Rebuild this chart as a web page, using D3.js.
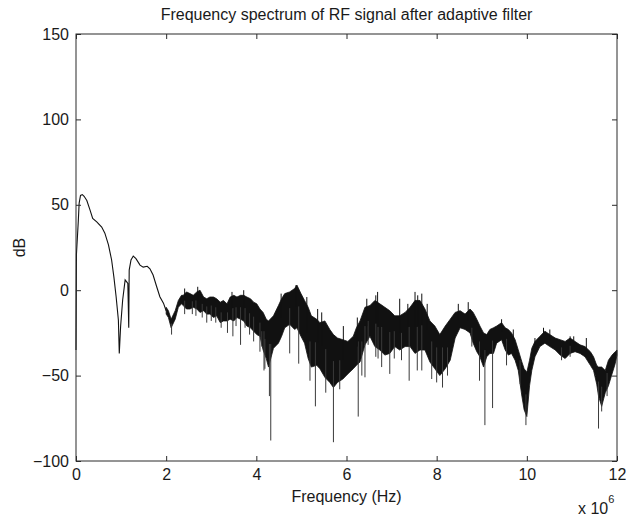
<!DOCTYPE html>
<html>
<head>
<meta charset="utf-8">
<script src="https://cdn.jsdelivr.net/npm/d3@7"></script>
<style>
  html, body { margin: 0; padding: 0; background: #fff; }
  svg { display: block; }
  text { font-family: "Liberation Sans", Arial, sans-serif; fill: #1a1a1a; }
</style>
</head>
<body>
<svg id="chart" width="626" height="516"></svg>
<script>
// Low-frequency part of the spectrum: a clean single trace (MHz, dB)
const smoothFreq = [0.00, 0.01, 0.05, 0.07, 0.10, 0.14, 0.18, 0.24, 0.31, 0.37, 0.46, 0.57, 0.64, 0.72, 0.79, 0.84, 0.89, 0.94, 0.96, 0.99, 1.035, 1.09, 1.12, 1.15, 1.17, 1.18, 1.22, 1.27, 1.33, 1.42, 1.49, 1.58, 1.64, 1.71, 1.79, 1.86, 1.94, 2.00];
const smoothDb   = [-35, 21, 40, 51, 55.5, 56, 55, 52.5, 47, 42, 40, 37, 33.4, 26.5, 17.7, 7.8, -3.8, -17.4, -37, -21, -5.7, 6, 5, 4, -22, 11.8, 17.7, 20, 18.5, 14.7, 13.5, 14, 12.5, 8.9, 2, -3.8, -7.6, -12];

// Noisy part: upper and lower extent of the trace at each reading (MHz, dB)
const bandFreq = [2.00, 2.05, 2.11, 2.20, 2.27, 2.34, 2.38, 2.45, 2.53, 2.60, 2.68, 2.75, 2.83, 2.90, 2.97, 3.05, 3.12, 3.20, 3.27, 3.35, 3.42, 3.50, 3.57, 3.65, 3.72, 3.79, 3.87, 3.94, 4.01, 4.08, 4.15, 4.22, 4.27, 4.38, 4.49, 4.56, 4.63, 4.74, 4.85, 4.90, 4.99, 5.07, 5.15, 5.22, 5.34, 5.41, 5.52, 5.63, 5.71, 5.80, 5.92, 6.03, 6.15, 6.22, 6.30, 6.41, 6.52, 6.63, 6.74, 6.85, 6.96, 7.07, 7.18, 7.30, 7.41, 7.52, 7.63, 7.74, 7.85, 7.96, 8.07, 8.19, 8.30, 8.41, 8.52, 8.63, 8.74, 8.81, 8.89, 8.96, 9.04, 9.11, 9.18, 9.26, 9.33, 9.44, 9.52, 9.59, 9.66, 9.74, 9.81, 9.89, 9.94, 10.00, 10.06, 10.11, 10.18, 10.29, 10.40, 10.51, 10.63, 10.74, 10.85, 10.96, 11.07, 11.18, 11.29, 11.41, 11.48, 11.55, 11.59, 11.66, 11.74, 11.81, 11.89, 11.96, 12.00];
const bandHigh = [-10, -12, -17, -12, -6, -3, -3, -1, -2, -3, -1, 0, -4, -5, -4, -4, -5, -7, -6, -8, -4, -3, -4, -3, -3, -4, -5, -7, -8, -11, -13, -17, -18, -15, -9, -5, -2, -1, 1, 3, -2, -6, -10, -15, -17, -19, -18, -23, -26, -28, -29, -30, -27, -22, -18, -10, -9, -6, -8, -10, -12, -15, -15, -13, -10, -6, -6, -11, -18, -21, -26, -21, -17, -13, -12, -14, -11, -13, -17, -21, -25, -26, -23, -22, -21, -19, -22, -23, -25, -29, -35, -42, -46, -48, -41, -34, -30, -27, -24, -26, -28, -29, -30, -28, -30, -32, -33, -36, -39, -44, -45, -45, -47, -41, -38, -36, -35];
const bandLow  = [-14, -16, -22, -17, -10, -8, -9, -11, -11, -10, -11, -13, -12, -14, -14, -16, -15, -19, -18, -18, -17, -18, -16, -17, -18, -21, -22, -24, -26, -27, -35, -40, -45, -34, -31, -27, -22, -20, -23, -22, -27, -31, -40, -45, -44, -46, -51, -54, -57, -54, -52, -49, -46, -44, -42, -32, -27, -33, -35, -38, -37, -33, -35, -33, -33, -37, -35, -35, -42, -46, -50, -46, -41, -28, -22, -23, -25, -31, -36, -39, -45, -39, -37, -37, -31, -29, -35, -38, -37, -41, -47, -62, -70, -74, -56, -47, -39, -33, -31, -33, -35, -38, -40, -37, -36, -37, -39, -44, -47, -55, -62, -68, -60, -56, -49, -43, -38];

// Single-sample excursions beyond the band (MHz, dB)
const spikeFreq = [
  2.12, 2.41, 2.58, 2.66, 2.80, 2.90, 3.00, 3.10, 3.22, 3.36, 3.48, 3.55, 3.65, 3.75, 3.85, 3.94, 4.08, 4.12, 4.17, 4.19, 4.29, 4.32,
  4.74, 4.94, 5.19, 5.31, 5.54, 5.71, 5.85, 6.26, 6.34, 6.41, 6.48, 6.65, 6.70, 6.78, 6.96, 7.06, 7.22, 7.39, 7.57, 7.67, 7.89, 8.00, 8.13, 8.24,
  8.78, 8.95, 9.07, 9.24, 9.55, 9.85, 9.98, 10.77, 10.96, 11.52, 11.59, 11.66, 11.78,
  2.41, 2.70, 3.46, 3.72, 4.55, 4.88, 5.12, 5.36, 5.45, 5.93, 6.24, 6.45, 6.65, 6.69, 7.18, 7.36, 7.52, 7.58, 7.67, 7.79, 8.48, 8.70,
  9.44, 9.70, 10.18, 10.37, 10.51, 10.96, 11.04, 11.32
];
const spikeDb = [
  -26, -14, -14, -15, -16, -19, -18, -19, -22, -25, -27, -21, -32, -22, -26, -30, -36, -33, -47, -46, -62, -88,
  -37, -43, -53, -68, -60, -89, -58, -74, -50, -51, -32, -39, -40, -45, -49, -40, -41, -53, -47, -47, -52, -54, -57, -50,
  -33, -53, -79, -69, -44, -55, -79, -41, -39, -50, -81, -71, -62,
  1, 2, -1, 0, -2, 3, -4, -11, -13, -21, -16, -5, -3, -1, -5, -8, -1, -3, -2, -8, -8, -7,
  -17, -23, -28, -22, -23, -27, -27, -28
];

// Axis ticks
const xTicks = [0, 2, 4, 6, 8, 10, 12];
const yTicks = [-100, -50, 0, 50, 100, 150];

const svg = d3.select("#chart");
const plotLeft = 76, plotRight = 617, plotTop = 34, plotBottom = 461;

const x = d3.scaleLinear().domain([0, 12]).range([plotLeft, plotRight]);
const y = d3.scaleLinear().domain([-100, 150]).range([plotBottom, plotTop]);

const ink = "#111";
const plot = svg.append("g");

// Band of the noisy trace
const bandData = bandFreq.map((f, i) => ({ f, hi: bandHigh[i], lo: bandLow[i] }));
plot.append("path")
  .datum(bandData)
  .attr("d", d3.area().x(d => x(d.f)).y0(d => y(d.lo)).y1(d => y(d.hi)))
  .attr("fill", ink)
  .attr("stroke", ink)
  .attr("stroke-width", 0.8);

// Excursions, drawn from inside the band out to their value
spikeFreq.forEach((f, i) => {
  const v = spikeDb[i];
  const k = Math.min(bandFreq.length - 1, d3.bisectCenter(bandFreq, f));
  const mid = (bandLow[k] + bandHigh[k]) / 2;
  plot.append("line")
    .attr("x1", x(f)).attr("x2", x(f))
    .attr("y1", y(mid)).attr("y2", y(v))
    .attr("stroke", v < mid ? "#3a3a3a" : ink)
    .attr("stroke-width", 1);
});

// Low-frequency trace
plot.append("path")
  .datum(smoothFreq.map((f, i) => [f, smoothDb[i]]))
  .attr("d", d3.line().x(d => x(d[0])).y(d => y(d[1])))
  .attr("fill", "none")
  .attr("stroke", ink)
  .attr("stroke-width", 1.1);

// Box and inward ticks on all four sides
const axisColor = "#2b2b2b";
svg.append("rect")
  .attr("x", plotLeft).attr("y", plotTop)
  .attr("width", plotRight - plotLeft).attr("height", plotBottom - plotTop)
  .attr("fill", "none").attr("stroke", axisColor).attr("stroke-width", 1);

const tl = 5;
const labelFont = "Liberation Sans, Arial, sans-serif";
svg.append("g")
  .attr("transform", `translate(0,${plotBottom})`)
  .call(d3.axisBottom(x).tickValues(xTicks).tickSizeInner(-tl).tickSizeOuter(0).tickPadding(8).tickFormat(d3.format("d")))
  .call(g => g.select(".domain").remove())
  .call(g => g.selectAll("line").attr("stroke", axisColor))
  .call(g => g.selectAll("text").attr("font-size", 16).attr("fill", "#1a1a1a").attr("font-family", labelFont));

svg.append("g")
  .attr("transform", `translate(0,${plotTop})`)
  .call(d3.axisTop(x).tickValues(xTicks).tickSizeInner(-tl).tickSizeOuter(0).tickFormat(""))
  .call(g => g.select(".domain").remove())
  .call(g => g.selectAll("line").attr("stroke", axisColor));

svg.append("g")
  .attr("transform", `translate(${plotLeft},0)`)
  .call(d3.axisLeft(y).tickValues(yTicks).tickSizeInner(-tl).tickSizeOuter(0).tickPadding(7).tickFormat(d3.format("d")))
  .call(g => g.select(".domain").remove())
  .call(g => g.selectAll("line").attr("stroke", axisColor))
  .call(g => g.selectAll("text").attr("font-size", 16).attr("fill", "#1a1a1a").attr("font-family", labelFont));

svg.append("g")
  .attr("transform", `translate(${plotRight},0)`)
  .call(d3.axisRight(y).tickValues(yTicks).tickSizeInner(-tl).tickSizeOuter(0).tickFormat(""))
  .call(g => g.select(".domain").remove())
  .call(g => g.selectAll("line").attr("stroke", axisColor));

// Titles
svg.append("text")
  .attr("x", (plotLeft + plotRight) / 2).attr("y", 20)
  .attr("text-anchor", "middle").attr("font-size", 16)
  .text("Frequency spectrum of RF signal after adaptive filter");

svg.append("text")
  .attr("x", (plotLeft + plotRight) / 2).attr("y", 502)
  .attr("text-anchor", "middle").attr("font-size", 16)
  .text("Frequency (Hz)");

svg.append("text")
  .attr("transform", `translate(25,${(plotTop + plotBottom) / 2}) rotate(-90)`)
  .attr("text-anchor", "middle").attr("font-size", 16)
  .text("dB");

// Axis exponent
const expo = svg.append("text")
  .attr("x", 578).attr("y", 514)
  .attr("font-size", 16);
expo.append("tspan").text("x 10");
expo.append("tspan").attr("dy", -11).attr("font-size", 11).text("6");
</script>
</body>
</html>
